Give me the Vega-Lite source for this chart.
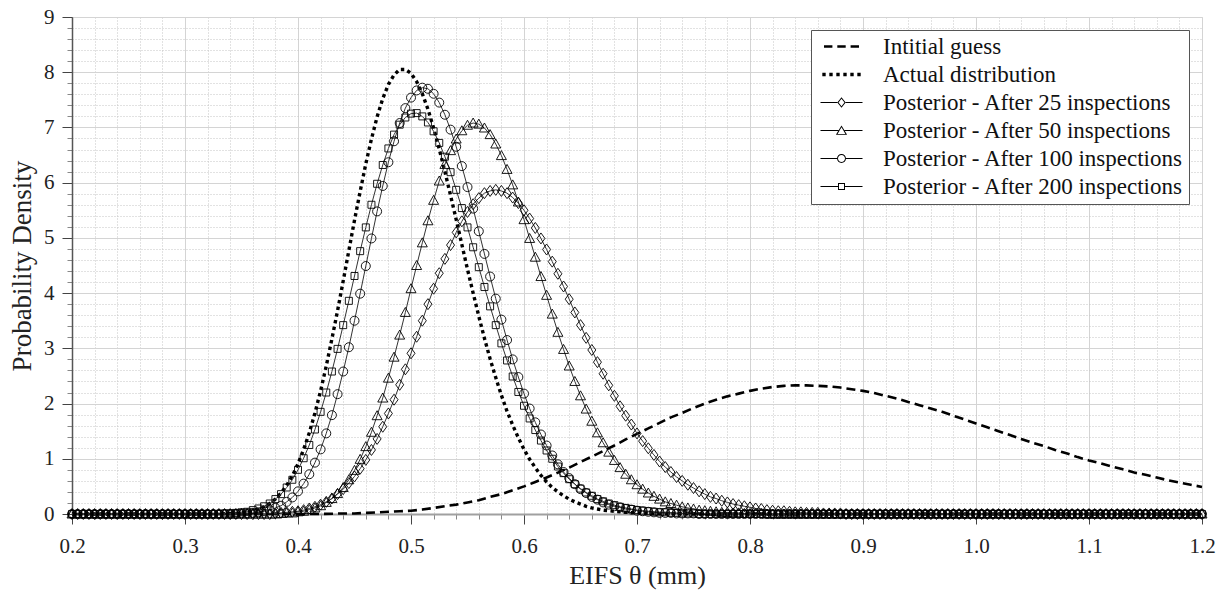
{
"$schema": "https://vega.github.io/schema/vega-lite/v6.json",
"width": 1130, "height": 497,
"autosize": "none",
"padding": {"left": 72, "top": 17, "right": 26, "bottom": 83},
"background": "white",
"config": {"font": "Liberation Serif, serif", "view": {"stroke": null},
  "axis": {"labelFont": "Liberation Serif, serif", "titleFont": "Liberation Serif, serif", "labelColor": "#222", "titleColor": "#222", "titleFontWeight": "normal"},
  "legend": {"labelFont": "Liberation Serif, serif"}},
"datasets": {
"leg": [{"s":"ini"},{"s":"act"},{"s":"p25"},{"s":"p50"},{"s":"p100"},{"s":"p200"}],
"ini": [{"x":0.2,"y":0},{"x":0.3,"y":0},{"x":0.35,"y":0},{"x":0.4,"y":0},{"x":0.42,"y":0},{"x":0.44,"y":0.01},{"x":0.45,"y":0.01},{"x":0.46,"y":0.02},{"x":0.47,"y":0.03},{"x":0.48,"y":0.04},{"x":0.49,"y":0.05},{"x":0.5,"y":0.06},{"x":0.51,"y":0.08},{"x":0.52,"y":0.11},{"x":0.53,"y":0.14},{"x":0.54,"y":0.17},{"x":0.55,"y":0.21},{"x":0.56,"y":0.25},{"x":0.57,"y":0.31},{"x":0.58,"y":0.36},{"x":0.59,"y":0.43},{"x":0.6,"y":0.5},{"x":0.61,"y":0.58},{"x":0.62,"y":0.66},{"x":0.63,"y":0.75},{"x":0.64,"y":0.84},{"x":0.65,"y":0.94},{"x":0.66,"y":1.04},{"x":0.67,"y":1.14},{"x":0.68,"y":1.24},{"x":0.69,"y":1.35},{"x":0.7,"y":1.45},{"x":0.71,"y":1.55},{"x":0.72,"y":1.65},{"x":0.73,"y":1.75},{"x":0.74,"y":1.83},{"x":0.75,"y":1.92},{"x":0.76,"y":2.0},{"x":0.77,"y":2.07},{"x":0.78,"y":2.13},{"x":0.79,"y":2.18},{"x":0.8,"y":2.23},{"x":0.81,"y":2.27},{"x":0.82,"y":2.3},{"x":0.83,"y":2.32},{"x":0.84,"y":2.33},{"x":0.85,"y":2.33},{"x":0.86,"y":2.32},{"x":0.87,"y":2.31},{"x":0.88,"y":2.29},{"x":0.89,"y":2.26},{"x":0.9,"y":2.23},{"x":0.91,"y":2.19},{"x":0.92,"y":2.14},{"x":0.93,"y":2.09},{"x":0.94,"y":2.03},{"x":0.95,"y":1.97},{"x":0.96,"y":1.91},{"x":0.97,"y":1.85},{"x":0.98,"y":1.78},{"x":0.99,"y":1.71},{"x":1.0,"y":1.64},{"x":1.01,"y":1.57},{"x":1.02,"y":1.5},{"x":1.03,"y":1.43},{"x":1.04,"y":1.36},{"x":1.05,"y":1.29},{"x":1.06,"y":1.23},{"x":1.07,"y":1.16},{"x":1.08,"y":1.1},{"x":1.09,"y":1.03},{"x":1.1,"y":0.97},{"x":1.11,"y":0.92},{"x":1.12,"y":0.86},{"x":1.13,"y":0.81},{"x":1.14,"y":0.75},{"x":1.15,"y":0.71},{"x":1.16,"y":0.66},{"x":1.17,"y":0.61},{"x":1.18,"y":0.57},{"x":1.19,"y":0.53},{"x":1.2,"y":0.49}],
"act": [{"x":0.2,"y":0},{"x":0.25,"y":0},{"x":0.3,"y":0},{"x":0.33,"y":0},{"x":0.34,"y":0.01},{"x":0.345,"y":0.01},{"x":0.35,"y":0.02},{"x":0.355,"y":0.04},{"x":0.36,"y":0.06},{"x":0.365,"y":0.09},{"x":0.37,"y":0.13},{"x":0.375,"y":0.19},{"x":0.38,"y":0.27},{"x":0.385,"y":0.38},{"x":0.39,"y":0.52},{"x":0.395,"y":0.69},{"x":0.4,"y":0.91},{"x":0.405,"y":1.17},{"x":0.41,"y":1.47},{"x":0.415,"y":1.83},{"x":0.42,"y":2.23},{"x":0.425,"y":2.68},{"x":0.43,"y":3.17},{"x":0.435,"y":3.68},{"x":0.44,"y":4.22},{"x":0.445,"y":4.77},{"x":0.45,"y":5.32},{"x":0.455,"y":5.84},{"x":0.46,"y":6.34},{"x":0.465,"y":6.79},{"x":0.47,"y":7.19},{"x":0.475,"y":7.52},{"x":0.48,"y":7.78},{"x":0.485,"y":7.95},{"x":0.49,"y":8.05},{"x":0.495,"y":8.05},{"x":0.5,"y":7.98},{"x":0.505,"y":7.83},{"x":0.51,"y":7.61},{"x":0.515,"y":7.33},{"x":0.52,"y":6.99},{"x":0.525,"y":6.61},{"x":0.53,"y":6.2},{"x":0.535,"y":5.77},{"x":0.54,"y":5.33},{"x":0.545,"y":4.88},{"x":0.55,"y":4.43},{"x":0.555,"y":4.0},{"x":0.56,"y":3.58},{"x":0.565,"y":3.18},{"x":0.57,"y":2.81},{"x":0.575,"y":2.47},{"x":0.58,"y":2.15},{"x":0.585,"y":1.86},{"x":0.59,"y":1.61},{"x":0.595,"y":1.38},{"x":0.6,"y":1.17},{"x":0.605,"y":0.99},{"x":0.61,"y":0.84},{"x":0.615,"y":0.7},{"x":0.62,"y":0.58},{"x":0.625,"y":0.48},{"x":0.63,"y":0.4},{"x":0.635,"y":0.33},{"x":0.64,"y":0.27},{"x":0.645,"y":0.22},{"x":0.65,"y":0.18},{"x":0.655,"y":0.14},{"x":0.66,"y":0.11},{"x":0.665,"y":0.09},{"x":0.67,"y":0.07},{"x":0.675,"y":0.06},{"x":0.68,"y":0.05},{"x":0.69,"y":0.03},{"x":0.7,"y":0.02},{"x":0.72,"y":0.01},{"x":0.75,"y":0},{"x":0.8,"y":0},{"x":0.9,"y":0},{"x":1.0,"y":0},{"x":1.1,"y":0},{"x":1.2,"y":0}],
"post": [
{"s":"p25","x":0.2,"y":0},{"s":"p25","x":0.205,"y":0},{"s":"p25","x":0.21,"y":0},{"s":"p25","x":0.215,"y":0},{"s":"p25","x":0.22,"y":0},{"s":"p25","x":0.225,"y":0},{"s":"p25","x":0.23,"y":0},{"s":"p25","x":0.235,"y":0},{"s":"p25","x":0.24,"y":0},{"s":"p25","x":0.245,"y":0},{"s":"p25","x":0.25,"y":0},{"s":"p25","x":0.255,"y":0},{"s":"p25","x":0.26,"y":0},{"s":"p25","x":0.265,"y":0},{"s":"p25","x":0.27,"y":0},{"s":"p25","x":0.275,"y":0},{"s":"p25","x":0.28,"y":0},{"s":"p25","x":0.285,"y":0},{"s":"p25","x":0.29,"y":0},{"s":"p25","x":0.295,"y":0},
{"s":"p25","x":0.3,"y":0},{"s":"p25","x":0.305,"y":0},{"s":"p25","x":0.31,"y":0},{"s":"p25","x":0.315,"y":0},{"s":"p25","x":0.32,"y":0},{"s":"p25","x":0.325,"y":0},{"s":"p25","x":0.33,"y":0},{"s":"p25","x":0.335,"y":0},{"s":"p25","x":0.34,"y":0},{"s":"p25","x":0.345,"y":0},{"s":"p25","x":0.35,"y":0},{"s":"p25","x":0.355,"y":0},{"s":"p25","x":0.36,"y":0},{"s":"p25","x":0.365,"y":0},{"s":"p25","x":0.37,"y":0},{"s":"p25","x":0.375,"y":0},{"s":"p25","x":0.38,"y":0.01},{"s":"p25","x":0.385,"y":0.02},{"s":"p25","x":0.39,"y":0.03},{"s":"p25","x":0.395,"y":0.04},
{"s":"p25","x":0.4,"y":0.05},{"s":"p25","x":0.405,"y":0.07},{"s":"p25","x":0.41,"y":0.1},{"s":"p25","x":0.415,"y":0.13},{"s":"p25","x":0.42,"y":0.17},{"s":"p25","x":0.425,"y":0.22},{"s":"p25","x":0.43,"y":0.28},{"s":"p25","x":0.435,"y":0.36},{"s":"p25","x":0.44,"y":0.45},{"s":"p25","x":0.445,"y":0.56},{"s":"p25","x":0.45,"y":0.68},{"s":"p25","x":0.455,"y":0.82},{"s":"p25","x":0.46,"y":0.98},{"s":"p25","x":0.465,"y":1.16},{"s":"p25","x":0.47,"y":1.36},{"s":"p25","x":0.475,"y":1.58},{"s":"p25","x":0.48,"y":1.82},{"s":"p25","x":0.485,"y":2.07},{"s":"p25","x":0.49,"y":2.34},{"s":"p25","x":0.495,"y":2.62},
{"s":"p25","x":0.5,"y":2.91},{"s":"p25","x":0.505,"y":3.21},{"s":"p25","x":0.51,"y":3.5},{"s":"p25","x":0.515,"y":3.8},{"s":"p25","x":0.52,"y":4.08},{"s":"p25","x":0.525,"y":4.36},{"s":"p25","x":0.53,"y":4.62},{"s":"p25","x":0.535,"y":4.87},{"s":"p25","x":0.54,"y":5.1},{"s":"p25","x":0.545,"y":5.3},{"s":"p25","x":0.55,"y":5.47},{"s":"p25","x":0.555,"y":5.61},{"s":"p25","x":0.56,"y":5.72},{"s":"p25","x":0.565,"y":5.81},{"s":"p25","x":0.57,"y":5.85},{"s":"p25","x":0.575,"y":5.87},{"s":"p25","x":0.58,"y":5.85},{"s":"p25","x":0.585,"y":5.81},{"s":"p25","x":0.59,"y":5.73},{"s":"p25","x":0.595,"y":5.63},
{"s":"p25","x":0.6,"y":5.5},{"s":"p25","x":0.605,"y":5.35},{"s":"p25","x":0.61,"y":5.18},{"s":"p25","x":0.615,"y":4.99},{"s":"p25","x":0.62,"y":4.79},{"s":"p25","x":0.625,"y":4.57},{"s":"p25","x":0.63,"y":4.35},{"s":"p25","x":0.635,"y":4.12},{"s":"p25","x":0.64,"y":3.89},{"s":"p25","x":0.645,"y":3.65},{"s":"p25","x":0.65,"y":3.42},{"s":"p25","x":0.655,"y":3.19},{"s":"p25","x":0.66,"y":2.97},{"s":"p25","x":0.665,"y":2.75},{"s":"p25","x":0.67,"y":2.54},{"s":"p25","x":0.675,"y":2.33},{"s":"p25","x":0.68,"y":2.14},{"s":"p25","x":0.685,"y":1.95},{"s":"p25","x":0.69,"y":1.78},{"s":"p25","x":0.695,"y":1.62},
{"s":"p25","x":0.7,"y":1.46},{"s":"p25","x":0.705,"y":1.32},{"s":"p25","x":0.71,"y":1.19},{"s":"p25","x":0.715,"y":1.07},{"s":"p25","x":0.72,"y":0.95},{"s":"p25","x":0.725,"y":0.85},{"s":"p25","x":0.73,"y":0.76},{"s":"p25","x":0.735,"y":0.67},{"s":"p25","x":0.74,"y":0.6},{"s":"p25","x":0.745,"y":0.53},{"s":"p25","x":0.75,"y":0.47},{"s":"p25","x":0.755,"y":0.41},{"s":"p25","x":0.76,"y":0.36},{"s":"p25","x":0.765,"y":0.31},{"s":"p25","x":0.77,"y":0.28},{"s":"p25","x":0.775,"y":0.24},{"s":"p25","x":0.78,"y":0.21},{"s":"p25","x":0.785,"y":0.18},{"s":"p25","x":0.79,"y":0.16},{"s":"p25","x":0.795,"y":0.14},
{"s":"p25","x":0.8,"y":0.12},{"s":"p25","x":0.805,"y":0.1},{"s":"p25","x":0.81,"y":0.09},{"s":"p25","x":0.815,"y":0.07},{"s":"p25","x":0.82,"y":0.06},{"s":"p25","x":0.825,"y":0.05},{"s":"p25","x":0.83,"y":0.05},{"s":"p25","x":0.835,"y":0.04},{"s":"p25","x":0.84,"y":0.03},{"s":"p25","x":0.845,"y":0.03},{"s":"p25","x":0.85,"y":0.02},{"s":"p25","x":0.855,"y":0.02},{"s":"p25","x":0.86,"y":0.02},{"s":"p25","x":0.865,"y":0.01},{"s":"p25","x":0.87,"y":0.01},{"s":"p25","x":0.875,"y":0.01},{"s":"p25","x":0.88,"y":0.01},{"s":"p25","x":0.885,"y":0},{"s":"p25","x":0.89,"y":0},{"s":"p25","x":0.895,"y":0},
{"s":"p25","x":0.9,"y":0},{"s":"p25","x":0.905,"y":0},{"s":"p25","x":0.91,"y":0},{"s":"p25","x":0.915,"y":0},{"s":"p25","x":0.92,"y":0},{"s":"p25","x":0.925,"y":0},{"s":"p25","x":0.93,"y":0},{"s":"p25","x":0.935,"y":0},{"s":"p25","x":0.94,"y":0},{"s":"p25","x":0.945,"y":0},{"s":"p25","x":0.95,"y":0},{"s":"p25","x":0.955,"y":0},{"s":"p25","x":0.96,"y":0},{"s":"p25","x":0.965,"y":0},{"s":"p25","x":0.97,"y":0},{"s":"p25","x":0.975,"y":0},{"s":"p25","x":0.98,"y":0},{"s":"p25","x":0.985,"y":0},{"s":"p25","x":0.99,"y":0},{"s":"p25","x":0.995,"y":0},
{"s":"p25","x":1.0,"y":0},{"s":"p25","x":1.005,"y":0},{"s":"p25","x":1.01,"y":0},{"s":"p25","x":1.015,"y":0},{"s":"p25","x":1.02,"y":0},{"s":"p25","x":1.025,"y":0},{"s":"p25","x":1.03,"y":0},{"s":"p25","x":1.035,"y":0},{"s":"p25","x":1.04,"y":0},{"s":"p25","x":1.045,"y":0},{"s":"p25","x":1.05,"y":0},{"s":"p25","x":1.055,"y":0},{"s":"p25","x":1.06,"y":0},{"s":"p25","x":1.065,"y":0},{"s":"p25","x":1.07,"y":0},{"s":"p25","x":1.075,"y":0},{"s":"p25","x":1.08,"y":0},{"s":"p25","x":1.085,"y":0},{"s":"p25","x":1.09,"y":0},{"s":"p25","x":1.095,"y":0},
{"s":"p25","x":1.1,"y":0},{"s":"p25","x":1.105,"y":0},{"s":"p25","x":1.11,"y":0},{"s":"p25","x":1.115,"y":0},{"s":"p25","x":1.12,"y":0},{"s":"p25","x":1.125,"y":0},{"s":"p25","x":1.13,"y":0},{"s":"p25","x":1.135,"y":0},{"s":"p25","x":1.14,"y":0},{"s":"p25","x":1.145,"y":0},{"s":"p25","x":1.15,"y":0},{"s":"p25","x":1.155,"y":0},{"s":"p25","x":1.16,"y":0},{"s":"p25","x":1.165,"y":0},{"s":"p25","x":1.17,"y":0},{"s":"p25","x":1.175,"y":0},{"s":"p25","x":1.18,"y":0},{"s":"p25","x":1.185,"y":0},{"s":"p25","x":1.19,"y":0},{"s":"p25","x":1.195,"y":0},{"s":"p25","x":1.2,"y":0},

{"s":"p50","x":0.2,"y":0},{"s":"p50","x":0.205,"y":0},{"s":"p50","x":0.21,"y":0},{"s":"p50","x":0.215,"y":0},{"s":"p50","x":0.22,"y":0},{"s":"p50","x":0.225,"y":0},{"s":"p50","x":0.23,"y":0},{"s":"p50","x":0.235,"y":0},{"s":"p50","x":0.24,"y":0},{"s":"p50","x":0.245,"y":0},{"s":"p50","x":0.25,"y":0},{"s":"p50","x":0.255,"y":0},{"s":"p50","x":0.26,"y":0},{"s":"p50","x":0.265,"y":0},{"s":"p50","x":0.27,"y":0},{"s":"p50","x":0.275,"y":0},{"s":"p50","x":0.28,"y":0},{"s":"p50","x":0.285,"y":0},{"s":"p50","x":0.29,"y":0},{"s":"p50","x":0.295,"y":0},
{"s":"p50","x":0.3,"y":0},{"s":"p50","x":0.305,"y":0},{"s":"p50","x":0.31,"y":0},{"s":"p50","x":0.315,"y":0},{"s":"p50","x":0.32,"y":0},{"s":"p50","x":0.325,"y":0},{"s":"p50","x":0.33,"y":0},{"s":"p50","x":0.335,"y":0},{"s":"p50","x":0.34,"y":0},{"s":"p50","x":0.345,"y":0},{"s":"p50","x":0.35,"y":0},{"s":"p50","x":0.355,"y":0},{"s":"p50","x":0.36,"y":0},{"s":"p50","x":0.365,"y":0},{"s":"p50","x":0.37,"y":0},{"s":"p50","x":0.375,"y":0},{"s":"p50","x":0.38,"y":0},{"s":"p50","x":0.385,"y":0.01},{"s":"p50","x":0.39,"y":0.02},{"s":"p50","x":0.395,"y":0.02},
{"s":"p50","x":0.4,"y":0.04},{"s":"p50","x":0.405,"y":0.05},{"s":"p50","x":0.41,"y":0.08},{"s":"p50","x":0.415,"y":0.11},{"s":"p50","x":0.42,"y":0.15},{"s":"p50","x":0.425,"y":0.21},{"s":"p50","x":0.43,"y":0.28},{"s":"p50","x":0.435,"y":0.37},{"s":"p50","x":0.44,"y":0.48},{"s":"p50","x":0.445,"y":0.62},{"s":"p50","x":0.45,"y":0.79},{"s":"p50","x":0.455,"y":0.99},{"s":"p50","x":0.46,"y":1.22},{"s":"p50","x":0.465,"y":1.48},{"s":"p50","x":0.47,"y":1.78},{"s":"p50","x":0.475,"y":2.1},{"s":"p50","x":0.48,"y":2.46},{"s":"p50","x":0.485,"y":2.84},{"s":"p50","x":0.49,"y":3.24},{"s":"p50","x":0.495,"y":3.65},
{"s":"p50","x":0.5,"y":4.08},{"s":"p50","x":0.505,"y":4.5},{"s":"p50","x":0.51,"y":4.91},{"s":"p50","x":0.515,"y":5.31},{"s":"p50","x":0.52,"y":5.68},{"s":"p50","x":0.525,"y":6.03},{"s":"p50","x":0.53,"y":6.33},{"s":"p50","x":0.535,"y":6.58},{"s":"p50","x":0.54,"y":6.79},{"s":"p50","x":0.545,"y":6.94},{"s":"p50","x":0.55,"y":7.04},{"s":"p50","x":0.555,"y":7.08},{"s":"p50","x":0.56,"y":7.06},{"s":"p50","x":0.565,"y":6.99},{"s":"p50","x":0.57,"y":6.87},{"s":"p50","x":0.575,"y":6.7},{"s":"p50","x":0.58,"y":6.49},{"s":"p50","x":0.585,"y":6.24},{"s":"p50","x":0.59,"y":5.96},{"s":"p50","x":0.595,"y":5.65},
{"s":"p50","x":0.6,"y":5.33},{"s":"p50","x":0.605,"y":4.99},{"s":"p50","x":0.61,"y":4.65},{"s":"p50","x":0.615,"y":4.3},{"s":"p50","x":0.62,"y":3.96},{"s":"p50","x":0.625,"y":3.62},{"s":"p50","x":0.63,"y":3.29},{"s":"p50","x":0.635,"y":2.98},{"s":"p50","x":0.64,"y":2.68},{"s":"p50","x":0.645,"y":2.4},{"s":"p50","x":0.65,"y":2.14},{"s":"p50","x":0.655,"y":1.9},{"s":"p50","x":0.66,"y":1.68},{"s":"p50","x":0.665,"y":1.47},{"s":"p50","x":0.67,"y":1.29},{"s":"p50","x":0.675,"y":1.12},{"s":"p50","x":0.68,"y":0.97},{"s":"p50","x":0.685,"y":0.84},{"s":"p50","x":0.69,"y":0.72},{"s":"p50","x":0.695,"y":0.62},
{"s":"p50","x":0.7,"y":0.53},{"s":"p50","x":0.705,"y":0.45},{"s":"p50","x":0.71,"y":0.38},{"s":"p50","x":0.715,"y":0.32},{"s":"p50","x":0.72,"y":0.27},{"s":"p50","x":0.725,"y":0.22},{"s":"p50","x":0.73,"y":0.19},{"s":"p50","x":0.735,"y":0.16},{"s":"p50","x":0.74,"y":0.13},{"s":"p50","x":0.745,"y":0.11},{"s":"p50","x":0.75,"y":0.09},{"s":"p50","x":0.755,"y":0.07},{"s":"p50","x":0.76,"y":0.06},{"s":"p50","x":0.765,"y":0.05},{"s":"p50","x":0.77,"y":0.04},{"s":"p50","x":0.775,"y":0.03},{"s":"p50","x":0.78,"y":0.03},{"s":"p50","x":0.785,"y":0.02},{"s":"p50","x":0.79,"y":0.02},{"s":"p50","x":0.795,"y":0.01},
{"s":"p50","x":0.8,"y":0.01},{"s":"p50","x":0.805,"y":0.01},{"s":"p50","x":0.81,"y":0.01},{"s":"p50","x":0.815,"y":0},{"s":"p50","x":0.82,"y":0},{"s":"p50","x":0.825,"y":0},{"s":"p50","x":0.83,"y":0},{"s":"p50","x":0.835,"y":0},{"s":"p50","x":0.84,"y":0},{"s":"p50","x":0.845,"y":0},{"s":"p50","x":0.85,"y":0},{"s":"p50","x":0.855,"y":0},{"s":"p50","x":0.86,"y":0},{"s":"p50","x":0.865,"y":0},{"s":"p50","x":0.87,"y":0},{"s":"p50","x":0.875,"y":0},{"s":"p50","x":0.88,"y":0},{"s":"p50","x":0.885,"y":0},{"s":"p50","x":0.89,"y":0},{"s":"p50","x":0.895,"y":0},
{"s":"p50","x":0.9,"y":0},{"s":"p50","x":0.905,"y":0},{"s":"p50","x":0.91,"y":0},{"s":"p50","x":0.915,"y":0},{"s":"p50","x":0.92,"y":0},{"s":"p50","x":0.925,"y":0},{"s":"p50","x":0.93,"y":0},{"s":"p50","x":0.935,"y":0},{"s":"p50","x":0.94,"y":0},{"s":"p50","x":0.945,"y":0},{"s":"p50","x":0.95,"y":0},{"s":"p50","x":0.955,"y":0},{"s":"p50","x":0.96,"y":0},{"s":"p50","x":0.965,"y":0},{"s":"p50","x":0.97,"y":0},{"s":"p50","x":0.975,"y":0},{"s":"p50","x":0.98,"y":0},{"s":"p50","x":0.985,"y":0},{"s":"p50","x":0.99,"y":0},{"s":"p50","x":0.995,"y":0},
{"s":"p50","x":1.0,"y":0},{"s":"p50","x":1.005,"y":0},{"s":"p50","x":1.01,"y":0},{"s":"p50","x":1.015,"y":0},{"s":"p50","x":1.02,"y":0},{"s":"p50","x":1.025,"y":0},{"s":"p50","x":1.03,"y":0},{"s":"p50","x":1.035,"y":0},{"s":"p50","x":1.04,"y":0},{"s":"p50","x":1.045,"y":0},{"s":"p50","x":1.05,"y":0},{"s":"p50","x":1.055,"y":0},{"s":"p50","x":1.06,"y":0},{"s":"p50","x":1.065,"y":0},{"s":"p50","x":1.07,"y":0},{"s":"p50","x":1.075,"y":0},{"s":"p50","x":1.08,"y":0},{"s":"p50","x":1.085,"y":0},{"s":"p50","x":1.09,"y":0},{"s":"p50","x":1.095,"y":0},
{"s":"p50","x":1.1,"y":0},{"s":"p50","x":1.105,"y":0},{"s":"p50","x":1.11,"y":0},{"s":"p50","x":1.115,"y":0},{"s":"p50","x":1.12,"y":0},{"s":"p50","x":1.125,"y":0},{"s":"p50","x":1.13,"y":0},{"s":"p50","x":1.135,"y":0},{"s":"p50","x":1.14,"y":0},{"s":"p50","x":1.145,"y":0},{"s":"p50","x":1.15,"y":0},{"s":"p50","x":1.155,"y":0},{"s":"p50","x":1.16,"y":0},{"s":"p50","x":1.165,"y":0},{"s":"p50","x":1.17,"y":0},{"s":"p50","x":1.175,"y":0},{"s":"p50","x":1.18,"y":0},{"s":"p50","x":1.185,"y":0},{"s":"p50","x":1.19,"y":0},{"s":"p50","x":1.195,"y":0},{"s":"p50","x":1.2,"y":0},

{"s":"p100","x":0.2,"y":0},{"s":"p100","x":0.205,"y":0},{"s":"p100","x":0.21,"y":0},{"s":"p100","x":0.215,"y":0},{"s":"p100","x":0.22,"y":0},{"s":"p100","x":0.225,"y":0},{"s":"p100","x":0.23,"y":0},{"s":"p100","x":0.235,"y":0},{"s":"p100","x":0.24,"y":0},{"s":"p100","x":0.245,"y":0},{"s":"p100","x":0.25,"y":0},{"s":"p100","x":0.255,"y":0},{"s":"p100","x":0.26,"y":0},{"s":"p100","x":0.265,"y":0},{"s":"p100","x":0.27,"y":0},{"s":"p100","x":0.275,"y":0},{"s":"p100","x":0.28,"y":0},{"s":"p100","x":0.285,"y":0},{"s":"p100","x":0.29,"y":0},{"s":"p100","x":0.295,"y":0},
{"s":"p100","x":0.3,"y":0},{"s":"p100","x":0.305,"y":0},{"s":"p100","x":0.31,"y":0},{"s":"p100","x":0.315,"y":0},{"s":"p100","x":0.32,"y":0},{"s":"p100","x":0.325,"y":0},{"s":"p100","x":0.33,"y":0},{"s":"p100","x":0.335,"y":0},{"s":"p100","x":0.34,"y":0},{"s":"p100","x":0.345,"y":0},{"s":"p100","x":0.35,"y":0.01},{"s":"p100","x":0.355,"y":0.01},{"s":"p100","x":0.36,"y":0.02},{"s":"p100","x":0.365,"y":0.03},{"s":"p100","x":0.37,"y":0.05},{"s":"p100","x":0.375,"y":0.07},{"s":"p100","x":0.38,"y":0.11},{"s":"p100","x":0.385,"y":0.15},{"s":"p100","x":0.39,"y":0.22},{"s":"p100","x":0.395,"y":0.3},
{"s":"p100","x":0.4,"y":0.41},{"s":"p100","x":0.405,"y":0.55},{"s":"p100","x":0.41,"y":0.72},{"s":"p100","x":0.415,"y":0.93},{"s":"p100","x":0.42,"y":1.17},{"s":"p100","x":0.425,"y":1.46},{"s":"p100","x":0.43,"y":1.79},{"s":"p100","x":0.435,"y":2.17},{"s":"p100","x":0.44,"y":2.58},{"s":"p100","x":0.445,"y":3.02},{"s":"p100","x":0.45,"y":3.5},{"s":"p100","x":0.455,"y":3.99},{"s":"p100","x":0.46,"y":4.49},{"s":"p100","x":0.465,"y":4.99},{"s":"p100","x":0.47,"y":5.48},{"s":"p100","x":0.475,"y":5.94},{"s":"p100","x":0.48,"y":6.37},{"s":"p100","x":0.485,"y":6.75},{"s":"p100","x":0.49,"y":7.08},{"s":"p100","x":0.495,"y":7.35},
{"s":"p100","x":0.5,"y":7.54},{"s":"p100","x":0.505,"y":7.67},{"s":"p100","x":0.51,"y":7.72},{"s":"p100","x":0.515,"y":7.7},{"s":"p100","x":0.52,"y":7.61},{"s":"p100","x":0.525,"y":7.45},{"s":"p100","x":0.53,"y":7.23},{"s":"p100","x":0.535,"y":6.96},{"s":"p100","x":0.54,"y":6.65},{"s":"p100","x":0.545,"y":6.3},{"s":"p100","x":0.55,"y":5.92},{"s":"p100","x":0.555,"y":5.53},{"s":"p100","x":0.56,"y":5.12},{"s":"p100","x":0.565,"y":4.71},{"s":"p100","x":0.57,"y":4.3},{"s":"p100","x":0.575,"y":3.9},{"s":"p100","x":0.58,"y":3.52},{"s":"p100","x":0.585,"y":3.15},{"s":"p100","x":0.59,"y":2.8},{"s":"p100","x":0.595,"y":2.48},
{"s":"p100","x":0.6,"y":2.18},{"s":"p100","x":0.605,"y":1.91},{"s":"p100","x":0.61,"y":1.66},{"s":"p100","x":0.615,"y":1.44},{"s":"p100","x":0.62,"y":1.24},{"s":"p100","x":0.625,"y":1.06},{"s":"p100","x":0.63,"y":0.9},{"s":"p100","x":0.635,"y":0.76},{"s":"p100","x":0.64,"y":0.65},{"s":"p100","x":0.645,"y":0.54},{"s":"p100","x":0.65,"y":0.45},{"s":"p100","x":0.655,"y":0.38},{"s":"p100","x":0.66,"y":0.31},{"s":"p100","x":0.665,"y":0.26},{"s":"p100","x":0.67,"y":0.21},{"s":"p100","x":0.675,"y":0.17},{"s":"p100","x":0.68,"y":0.14},{"s":"p100","x":0.685,"y":0.12},{"s":"p100","x":0.69,"y":0.09},{"s":"p100","x":0.695,"y":0.08},
{"s":"p100","x":0.7,"y":0.06},{"s":"p100","x":0.705,"y":0.05},{"s":"p100","x":0.71,"y":0.04},{"s":"p100","x":0.715,"y":0.03},{"s":"p100","x":0.72,"y":0.02},{"s":"p100","x":0.725,"y":0.02},{"s":"p100","x":0.73,"y":0.02},{"s":"p100","x":0.735,"y":0.01},{"s":"p100","x":0.74,"y":0.01},{"s":"p100","x":0.745,"y":0.01},{"s":"p100","x":0.75,"y":0.01},{"s":"p100","x":0.755,"y":0},{"s":"p100","x":0.76,"y":0},{"s":"p100","x":0.765,"y":0},{"s":"p100","x":0.77,"y":0},{"s":"p100","x":0.775,"y":0},{"s":"p100","x":0.78,"y":0},{"s":"p100","x":0.785,"y":0},{"s":"p100","x":0.79,"y":0},{"s":"p100","x":0.795,"y":0},
{"s":"p100","x":0.8,"y":0},{"s":"p100","x":0.805,"y":0},{"s":"p100","x":0.81,"y":0},{"s":"p100","x":0.815,"y":0},{"s":"p100","x":0.82,"y":0},{"s":"p100","x":0.825,"y":0},{"s":"p100","x":0.83,"y":0},{"s":"p100","x":0.835,"y":0},{"s":"p100","x":0.84,"y":0},{"s":"p100","x":0.845,"y":0},{"s":"p100","x":0.85,"y":0},{"s":"p100","x":0.855,"y":0},{"s":"p100","x":0.86,"y":0},{"s":"p100","x":0.865,"y":0},{"s":"p100","x":0.87,"y":0},{"s":"p100","x":0.875,"y":0},{"s":"p100","x":0.88,"y":0},{"s":"p100","x":0.885,"y":0},{"s":"p100","x":0.89,"y":0},{"s":"p100","x":0.895,"y":0},
{"s":"p100","x":0.9,"y":0},{"s":"p100","x":0.905,"y":0},{"s":"p100","x":0.91,"y":0},{"s":"p100","x":0.915,"y":0},{"s":"p100","x":0.92,"y":0},{"s":"p100","x":0.925,"y":0},{"s":"p100","x":0.93,"y":0},{"s":"p100","x":0.935,"y":0},{"s":"p100","x":0.94,"y":0},{"s":"p100","x":0.945,"y":0},{"s":"p100","x":0.95,"y":0},{"s":"p100","x":0.955,"y":0},{"s":"p100","x":0.96,"y":0},{"s":"p100","x":0.965,"y":0},{"s":"p100","x":0.97,"y":0},{"s":"p100","x":0.975,"y":0},{"s":"p100","x":0.98,"y":0},{"s":"p100","x":0.985,"y":0},{"s":"p100","x":0.99,"y":0},{"s":"p100","x":0.995,"y":0},
{"s":"p100","x":1.0,"y":0},{"s":"p100","x":1.005,"y":0},{"s":"p100","x":1.01,"y":0},{"s":"p100","x":1.015,"y":0},{"s":"p100","x":1.02,"y":0},{"s":"p100","x":1.025,"y":0},{"s":"p100","x":1.03,"y":0},{"s":"p100","x":1.035,"y":0},{"s":"p100","x":1.04,"y":0},{"s":"p100","x":1.045,"y":0},{"s":"p100","x":1.05,"y":0},{"s":"p100","x":1.055,"y":0},{"s":"p100","x":1.06,"y":0},{"s":"p100","x":1.065,"y":0},{"s":"p100","x":1.07,"y":0},{"s":"p100","x":1.075,"y":0},{"s":"p100","x":1.08,"y":0},{"s":"p100","x":1.085,"y":0},{"s":"p100","x":1.09,"y":0},{"s":"p100","x":1.095,"y":0},
{"s":"p100","x":1.1,"y":0},{"s":"p100","x":1.105,"y":0},{"s":"p100","x":1.11,"y":0},{"s":"p100","x":1.115,"y":0},{"s":"p100","x":1.12,"y":0},{"s":"p100","x":1.125,"y":0},{"s":"p100","x":1.13,"y":0},{"s":"p100","x":1.135,"y":0},{"s":"p100","x":1.14,"y":0},{"s":"p100","x":1.145,"y":0},{"s":"p100","x":1.15,"y":0},{"s":"p100","x":1.155,"y":0},{"s":"p100","x":1.16,"y":0},{"s":"p100","x":1.165,"y":0},{"s":"p100","x":1.17,"y":0},{"s":"p100","x":1.175,"y":0},{"s":"p100","x":1.18,"y":0},{"s":"p100","x":1.185,"y":0},{"s":"p100","x":1.19,"y":0},{"s":"p100","x":1.195,"y":0},{"s":"p100","x":1.2,"y":0},

{"s":"p200","x":0.2,"y":0},{"s":"p200","x":0.205,"y":0},{"s":"p200","x":0.21,"y":0},{"s":"p200","x":0.215,"y":0},{"s":"p200","x":0.22,"y":0},{"s":"p200","x":0.225,"y":0},{"s":"p200","x":0.23,"y":0},{"s":"p200","x":0.235,"y":0},{"s":"p200","x":0.24,"y":0},{"s":"p200","x":0.245,"y":0},{"s":"p200","x":0.25,"y":0},{"s":"p200","x":0.255,"y":0},{"s":"p200","x":0.26,"y":0},{"s":"p200","x":0.265,"y":0},{"s":"p200","x":0.27,"y":0},{"s":"p200","x":0.275,"y":0},{"s":"p200","x":0.28,"y":0},{"s":"p200","x":0.285,"y":0},{"s":"p200","x":0.29,"y":0},{"s":"p200","x":0.295,"y":0},
{"s":"p200","x":0.3,"y":0},{"s":"p200","x":0.305,"y":0},{"s":"p200","x":0.31,"y":0},{"s":"p200","x":0.315,"y":0},{"s":"p200","x":0.32,"y":0},{"s":"p200","x":0.325,"y":0},{"s":"p200","x":0.33,"y":0},{"s":"p200","x":0.335,"y":0.01},{"s":"p200","x":0.34,"y":0.01},{"s":"p200","x":0.345,"y":0.02},{"s":"p200","x":0.35,"y":0.03},{"s":"p200","x":0.355,"y":0.04},{"s":"p200","x":0.36,"y":0.07},{"s":"p200","x":0.365,"y":0.1},{"s":"p200","x":0.37,"y":0.14},{"s":"p200","x":0.375,"y":0.19},{"s":"p200","x":0.38,"y":0.27},{"s":"p200","x":0.385,"y":0.36},{"s":"p200","x":0.39,"y":0.48},{"s":"p200","x":0.395,"y":0.62},
{"s":"p200","x":0.4,"y":0.8},{"s":"p200","x":0.405,"y":1.01},{"s":"p200","x":0.41,"y":1.25},{"s":"p200","x":0.415,"y":1.53},{"s":"p200","x":0.42,"y":1.85},{"s":"p200","x":0.425,"y":2.2},{"s":"p200","x":0.43,"y":2.58},{"s":"p200","x":0.435,"y":2.99},{"s":"p200","x":0.44,"y":3.42},{"s":"p200","x":0.445,"y":3.86},{"s":"p200","x":0.45,"y":4.31},{"s":"p200","x":0.455,"y":4.76},{"s":"p200","x":0.46,"y":5.19},{"s":"p200","x":0.465,"y":5.6},{"s":"p200","x":0.47,"y":5.98},{"s":"p200","x":0.475,"y":6.32},{"s":"p200","x":0.48,"y":6.62},{"s":"p200","x":0.485,"y":6.87},{"s":"p200","x":0.49,"y":7.05},{"s":"p200","x":0.495,"y":7.18},
{"s":"p200","x":0.5,"y":7.25},{"s":"p200","x":0.505,"y":7.26},{"s":"p200","x":0.51,"y":7.2},{"s":"p200","x":0.515,"y":7.09},{"s":"p200","x":0.52,"y":6.93},{"s":"p200","x":0.525,"y":6.72},{"s":"p200","x":0.53,"y":6.47},{"s":"p200","x":0.535,"y":6.19},{"s":"p200","x":0.54,"y":5.87},{"s":"p200","x":0.545,"y":5.54},{"s":"p200","x":0.55,"y":5.19},{"s":"p200","x":0.555,"y":4.83},{"s":"p200","x":0.56,"y":4.47},{"s":"p200","x":0.565,"y":4.11},{"s":"p200","x":0.57,"y":3.76},{"s":"p200","x":0.575,"y":3.42},{"s":"p200","x":0.58,"y":3.09},{"s":"p200","x":0.585,"y":2.78},{"s":"p200","x":0.59,"y":2.49},{"s":"p200","x":0.595,"y":2.21},
{"s":"p200","x":0.6,"y":1.96},{"s":"p200","x":0.605,"y":1.73},{"s":"p200","x":0.61,"y":1.52},{"s":"p200","x":0.615,"y":1.33},{"s":"p200","x":0.62,"y":1.15},{"s":"p200","x":0.625,"y":1.0},{"s":"p200","x":0.63,"y":0.86},{"s":"p200","x":0.635,"y":0.74},{"s":"p200","x":0.64,"y":0.63},{"s":"p200","x":0.645,"y":0.54},{"s":"p200","x":0.65,"y":0.46},{"s":"p200","x":0.655,"y":0.39},{"s":"p200","x":0.66,"y":0.33},{"s":"p200","x":0.665,"y":0.27},{"s":"p200","x":0.67,"y":0.23},{"s":"p200","x":0.675,"y":0.19},{"s":"p200","x":0.68,"y":0.16},{"s":"p200","x":0.685,"y":0.13},{"s":"p200","x":0.69,"y":0.11},{"s":"p200","x":0.695,"y":0.09},
{"s":"p200","x":0.7,"y":0.07},{"s":"p200","x":0.705,"y":0.06},{"s":"p200","x":0.71,"y":0.05},{"s":"p200","x":0.715,"y":0.04},{"s":"p200","x":0.72,"y":0.03},{"s":"p200","x":0.725,"y":0.03},{"s":"p200","x":0.73,"y":0.02},{"s":"p200","x":0.735,"y":0.02},{"s":"p200","x":0.74,"y":0.01},{"s":"p200","x":0.745,"y":0.01},{"s":"p200","x":0.75,"y":0.01},{"s":"p200","x":0.755,"y":0},{"s":"p200","x":0.76,"y":0},{"s":"p200","x":0.765,"y":0},{"s":"p200","x":0.77,"y":0},{"s":"p200","x":0.775,"y":0},{"s":"p200","x":0.78,"y":0},{"s":"p200","x":0.785,"y":0},{"s":"p200","x":0.79,"y":0},{"s":"p200","x":0.795,"y":0},
{"s":"p200","x":0.8,"y":0},{"s":"p200","x":0.805,"y":0},{"s":"p200","x":0.81,"y":0},{"s":"p200","x":0.815,"y":0},{"s":"p200","x":0.82,"y":0},{"s":"p200","x":0.825,"y":0},{"s":"p200","x":0.83,"y":0},{"s":"p200","x":0.835,"y":0},{"s":"p200","x":0.84,"y":0},{"s":"p200","x":0.845,"y":0},{"s":"p200","x":0.85,"y":0},{"s":"p200","x":0.855,"y":0},{"s":"p200","x":0.86,"y":0},{"s":"p200","x":0.865,"y":0},{"s":"p200","x":0.87,"y":0},{"s":"p200","x":0.875,"y":0},{"s":"p200","x":0.88,"y":0},{"s":"p200","x":0.885,"y":0},{"s":"p200","x":0.89,"y":0},{"s":"p200","x":0.895,"y":0},
{"s":"p200","x":0.9,"y":0},{"s":"p200","x":0.905,"y":0},{"s":"p200","x":0.91,"y":0},{"s":"p200","x":0.915,"y":0},{"s":"p200","x":0.92,"y":0},{"s":"p200","x":0.925,"y":0},{"s":"p200","x":0.93,"y":0},{"s":"p200","x":0.935,"y":0},{"s":"p200","x":0.94,"y":0},{"s":"p200","x":0.945,"y":0},{"s":"p200","x":0.95,"y":0},{"s":"p200","x":0.955,"y":0},{"s":"p200","x":0.96,"y":0},{"s":"p200","x":0.965,"y":0},{"s":"p200","x":0.97,"y":0},{"s":"p200","x":0.975,"y":0},{"s":"p200","x":0.98,"y":0},{"s":"p200","x":0.985,"y":0},{"s":"p200","x":0.99,"y":0},{"s":"p200","x":0.995,"y":0},
{"s":"p200","x":1.0,"y":0},{"s":"p200","x":1.005,"y":0},{"s":"p200","x":1.01,"y":0},{"s":"p200","x":1.015,"y":0},{"s":"p200","x":1.02,"y":0},{"s":"p200","x":1.025,"y":0},{"s":"p200","x":1.03,"y":0},{"s":"p200","x":1.035,"y":0},{"s":"p200","x":1.04,"y":0},{"s":"p200","x":1.045,"y":0},{"s":"p200","x":1.05,"y":0},{"s":"p200","x":1.055,"y":0},{"s":"p200","x":1.06,"y":0},{"s":"p200","x":1.065,"y":0},{"s":"p200","x":1.07,"y":0},{"s":"p200","x":1.075,"y":0},{"s":"p200","x":1.08,"y":0},{"s":"p200","x":1.085,"y":0},{"s":"p200","x":1.09,"y":0},{"s":"p200","x":1.095,"y":0},
{"s":"p200","x":1.1,"y":0},{"s":"p200","x":1.105,"y":0},{"s":"p200","x":1.11,"y":0},{"s":"p200","x":1.115,"y":0},{"s":"p200","x":1.12,"y":0},{"s":"p200","x":1.125,"y":0},{"s":"p200","x":1.13,"y":0},{"s":"p200","x":1.135,"y":0},{"s":"p200","x":1.14,"y":0},{"s":"p200","x":1.145,"y":0},{"s":"p200","x":1.15,"y":0},{"s":"p200","x":1.155,"y":0},{"s":"p200","x":1.16,"y":0},{"s":"p200","x":1.165,"y":0},{"s":"p200","x":1.17,"y":0},{"s":"p200","x":1.175,"y":0},{"s":"p200","x":1.18,"y":0},{"s":"p200","x":1.185,"y":0},{"s":"p200","x":1.19,"y":0},{"s":"p200","x":1.195,"y":0},{"s":"p200","x":1.2,"y":0}
]
},
"layer": [
{"data": {"name": "ini"},
 "mark": {"type": "line", "color": "black", "strokeWidth": 2.6, "strokeDash": [9, 5]},
 "encoding": {
  "x": {"field": "x", "type": "quantitative", "scale": {"domain": [0.2, 1.2], "nice": false, "zero": false},
    "axis": {"orient": "bottom", "values": [0.2,0.22,0.24,0.26,0.28,0.3,0.32,0.34,0.36,0.38,0.4,0.42,0.44,0.46,0.48,0.5,0.52,0.54,0.56,0.58,0.6,0.62,0.64,0.66,0.68,0.7,0.72,0.74,0.76,0.78,0.8,0.82,0.84,0.86,0.88,0.9,0.92,0.94,0.96,0.98,1.0,1.02,1.04,1.06,1.08,1.1,1.12,1.14,1.16,1.18,1.2],
      "labels": false, "domain": false, "ticks": true, "tickSize": 5, "tickColor": "#888", "grid": true, "gridColor": "#c4c4c4", "gridDash": [1, 2], "gridWidth": 1, "title": null}},
  "y": {"field": "y", "type": "quantitative", "scale": {"domain": [0, 9], "nice": false},
    "axis": {"orient": "left", "values": [0,0.2,0.4,0.6,0.8,1,1.2,1.4,1.6,1.8,2,2.2,2.4,2.6,2.8,3,3.2,3.4,3.6,3.8,4,4.2,4.4,4.6,4.8,5,5.2,5.4,5.6,5.8,6,6.2,6.4,6.6,6.8,7,7.2,7.4,7.6,7.8,8,8.2,8.4,8.6,8.8,9],
      "labels": false, "domain": false, "ticks": true, "tickSize": 5, "tickColor": "#888", "grid": true, "gridColor": "#c4c4c4", "gridDash": [1, 2], "gridWidth": 1, "title": null}}
 }},
{"data": {"name": "act"},
 "mark": {"type": "line", "color": "black", "strokeWidth": 3.4, "strokeDash": [3.4, 3.4]},
 "encoding": {
  "x": {"field": "x", "type": "quantitative",
    "axis": {"orient": "bottom", "values": [0.2,0.3,0.4,0.5,0.6,0.7,0.8,0.9,1.0,1.1,1.2], "format": ".1f", "tickSize": 10, "tickColor": "#444", "grid": true, "gridColor": "#d4d4d4", "gridWidth": 1, "domain": true, "domainColor": "#a0a0a0", "domainWidth": 2,
      "labelFont": "Liberation Serif, serif", "labelFontSize": 21, "labelPadding": 11, "labelFlush": false,
      "title": "EIFS θ (mm)", "titleFont": "Liberation Serif, serif", "titleFontSize": 26, "titlePadding": 6}},
  "y": {"field": "y", "type": "quantitative",
    "axis": {"orient": "left", "values": [0,1,2,3,4,5,6,7,8,9], "format": "d", "tickSize": 10, "tickColor": "#444", "grid": true, "gridColor": "#d4d4d4", "gridWidth": 1, "domain": true, "domainColor": "#555", "domainWidth": 1.5,
      "labelFont": "Liberation Serif, serif", "labelFontSize": 21, "labelPadding": 8,
      "title": "Probability Density", "titleFont": "Liberation Serif, serif", "titleFontSize": 27, "titlePadding": 7}}
 }},
{"data": {"name": "post"},
 "mark": {"type": "line", "color": "#333", "strokeWidth": 1},
 "encoding": {
  "x": {"field": "x", "type": "quantitative", "axis": null},
  "y": {"field": "y", "type": "quantitative", "axis": null},
  "detail": {"field": "s"}
 }},
{"data": {"name": "post"},
 "mark": {"type": "point", "filled": false, "color": "black", "strokeWidth": 0.9, "size": 100, "opacity": 1},
 "encoding": {
  "x": {"field": "x", "type": "quantitative", "axis": null},
  "y": {"field": "y", "type": "quantitative", "axis": null},
  "shape": {"field": "s", "type": "nominal", "legend": null,
    "scale": {"domain": ["p25", "p50", "p100", "p200"],
      "range": ["M0,-1.1L0.8,0L0,1.1L-0.8,0Z", "M0,-1L1,0.8L-1,0.8Z", "M-0.9,0A0.9,0.9 0 1,0 0.9,0A0.9,0.9 0 1,0 -0.9,0Z", "M-0.7,-0.7H0.7V0.7H-0.7Z"]}}
 }},
{"data": {"name": "leg"},
 "mark": {"type": "point", "filled": true, "color": "black", "opacity": 0, "strokeWidth": 0},
 "encoding": {
  "shape": {"field": "s", "type": "nominal",
    "scale": {"domain": ["ini", "act", "p25", "p50", "p100", "p200"],
      "range": [
        "M-2.5,-0.19H-1.3V0.19H-2.5ZM-0.6,-0.19H0.6V0.19H-0.6ZM1.3,-0.19H2.5V0.19H1.3Z",
        "M-2.74,-0.24H-2.26V0.24H-2.74ZM-1.74,-0.24H-1.26V0.24H-1.74ZM-0.74,-0.24H-0.26V0.24H-0.74ZM0.26,-0.24H0.74V0.24H0.26ZM1.26,-0.24H1.74V0.24H1.26ZM2.26,-0.24H2.74V0.24H2.26Z",
        "M-3,-0.07H-0.6V0.07H-3ZM0.6,-0.07H3V0.07H0.6ZM0,-0.75L0.6,0L0,0.75L-0.6,0ZM0,-0.55L-0.42,0L0,0.55L0.42,0Z",
        "M-3,-0.07H-0.43V0.07H-3ZM0.43,-0.07H3V0.07H0.43ZM0,-0.72L0.8,0.62L-0.8,0.62ZM0,-0.452L-0.56,0.486L0.56,0.486Z",
        "M-3,-0.07H-0.64V0.07H-3ZM0.64,-0.07H3V0.07H0.64ZM-0.64,0A0.64,0.64 0 1,1 0.64,0A0.64,0.64 0 1,1 -0.64,0ZM-0.5,0A0.5,0.5 0 1,0 0.5,0A0.5,0.5 0 1,0 -0.5,0Z",
        "M-3,-0.07H-0.5V0.07H-3ZM0.5,-0.07H3V0.07H0.5ZM-0.5,-0.5H0.5V0.5H-0.5ZM-0.36,-0.36V0.36H0.36V-0.36Z"]},
    "legend": {"title": null, "orient": "top-right", "offset": 13, "padding": 5, "strokeColor": "#555", "fillColor": "white",
      "labelFont": "Liberation Serif, serif", "labelFontSize": 23, "labelColor": "#111", "labelLimit": 600, "rowPadding": 4,
      "symbolSize": 196, "symbolOffset": 14, "labelOffset": 30, "symbolOpacity": 1, "symbolStrokeWidth": 0, "symbolFillColor": "black",
      "labelExpr": "datum.value == 'ini' ? 'Intitial guess' : datum.value == 'act' ? 'Actual distribution' : datum.value == 'p25' ? 'Posterior - After 25 inspections' : datum.value == 'p50' ? 'Posterior - After 50 inspections' : datum.value == 'p100' ? 'Posterior - After 100 inspections' : 'Posterior - After 200 inspections'"}}
 }}
],
"resolve": {"axis": {"x": "independent", "y": "independent"}, "scale": {"shape": "independent"}}
}
